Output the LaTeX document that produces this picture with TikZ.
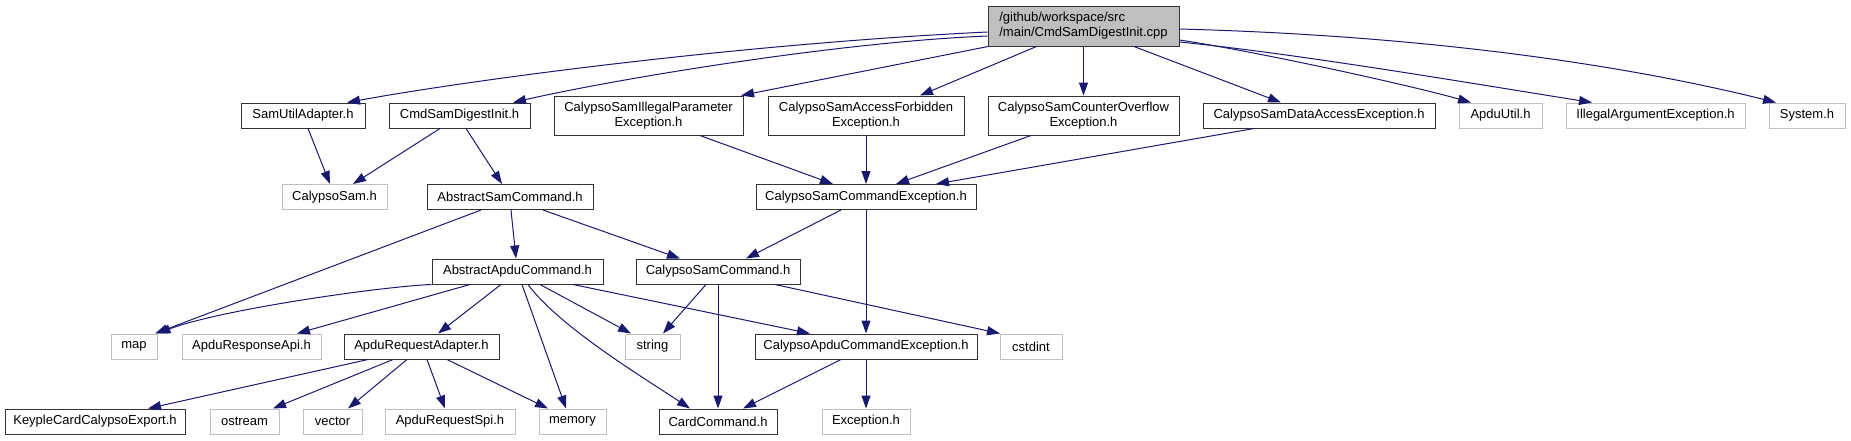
\documentclass[tikz,border=0pt]{standalone}
\usepackage{fontspec}
\setmainfont{Liberation Sans}
\usetikzlibrary{arrows.meta}
\definecolor{edgeblue}{HTML}{191970}
\definecolor{extgray}{HTML}{BFBFBF}

\tikzset{
  hdr/.style={draw=black!80, line width=1pt, rectangle, minimum height=25pt, inner sep=0pt, font=\fontsize{13}{15}\selectfont, align=center},
  ext/.style={hdr, draw=extgray},
  twoline/.style={minimum height=39pt},
  root/.style={hdr, fill=extgray, minimum height=40pt, align=left},
  dep/.style={-{Triangle[length=13pt,width=9pt]}, draw=edgeblue, line width=1pt},
}

\begin{document}
\begin{tikzpicture}[x=1pt, y=-1pt]
    \useasboundingbox (0,0) rectangle (1851,440);

    % Root file
    \node[root, minimum width=191pt] (main) at (1083.5,26) {/github/workspace/src\\/main/CmdSamDigestInit.cpp};

    % First row
    \node[hdr, minimum width=124pt] (samutil) at (303,115.5) {SamUtilAdapter.h};
    \node[hdr, minimum width=141pt] (cmdsam) at (459.5,115.5) {CmdSamDigestInit.h};
    \node[hdr, twoline, minimum width=189pt] (ipe) at (648.5,115.5) {CalypsoSamIllegalParameter\\Exception.h};
    \node[hdr, twoline, minimum width=196pt] (afe) at (866,115.5) {CalypsoSamAccessForbidden\\Exception.h};
    \node[hdr, twoline, minimum width=191pt] (cofe) at (1083.5,115.5) {CalypsoSamCounterOverflow\\Exception.h};
    \node[hdr, minimum width=232pt] (dae) at (1319,115.5) {CalypsoSamDataAccessException.h};
    \node[ext, minimum width=83pt] (apduutil) at (1500.5,115.5) {ApduUtil.h};
    \node[ext, minimum width=179pt] (iae) at (1655.5,115.5) {IllegalArgumentException.h};
    \node[ext, minimum width=76pt] (system) at (1807,115.5) {System.h};

    % Second row
    \node[ext, minimum width=105pt] (calsam) at (334.5,197) {CalypsoSam.h};
    \node[hdr, minimum width=166pt] (abssam) at (510,197) {AbstractSamCommand.h};
    \node[hdr, minimum width=220pt] (csce) at (866,197) {CalypsoSamCommandException.h};

    % Third row
    \node[hdr, minimum width=171pt] (absapdu) at (517.5,271.5) {AbstractApduCommand.h};
    \node[hdr, minimum width=164pt] (csc) at (718,271.5) {CalypsoSamCommand.h};

    % Fourth row
    \node[ext, minimum width=46pt] (map) at (134,346.5) {map};
    \node[ext, minimum width=139pt] (respapi) at (251.5,346.5) {ApduResponseApi.h};
    \node[hdr, minimum width=155pt] (reqadapter) at (421.5,346.5) {ApduRequestAdapter.h};
    \node[ext, minimum width=55pt] (string) at (652.5,346.5) {string};
    \node[hdr, minimum width=222pt] (cace) at (866,346.5) {CalypsoApduCommandException.h};
    \node[ext, minimum width=62pt] (cstdint) at (1031,346.5) {cstdint};

    % Bottom row
    \node[hdr, minimum width=180pt] (keyple) at (95,421.5) {KeypleCardCalypsoExport.h};
    \node[ext, minimum width=69pt] (ostream) at (244.5,421.5) {ostream};
    \node[ext, minimum width=59pt] (vector) at (332.5,421.5) {vector};
    \node[ext, minimum width=130pt] (reqspi) at (450,421.5) {ApduRequestSpi.h};
    \node[ext, minimum width=67pt] (memory) at (572.5,421.5) {memory};
    \node[hdr, minimum width=118pt] (cardcmd) at (718,421.5) {CardCommand.h};
    \node[ext, minimum width=88pt] (exception) at (866,421.5) {Exception.h};

    % Straight includes
    \foreach \a/\sa/\b/\sb in {
        main/-95.5/ipe/92.5, main/-47/afe/54, main/0/cofe/0, main/50.5/dae/-38,
        samutil/5/calsam/-4.5, cmdsam/-19.5/calsam/18.5, cmdsam/6.5/abssam/-8,
        ipe/51.5/csce/-33, afe/0/csce/0, cofe/-52.5/csce/30, dae/-65/csce/70,
        abssam/-29/map/21, abssam/1/absapdu/-1.5, abssam/33/csc/-38,
        csce/-25/csc/28, csce/0/cace/0,
        absapdu/-47.5/respapi/45.5, absapdu/-16.5/reqadapter/16.5, absapdu/4.5/memory/-6.5,
        absapdu/22.5/string/-21.5, absapdu/55.5/cace/-56,
        csc/-12/string/10.5, csc/0/cardcmd/0, csc/57/cstdint/-31,
        cace/-25/cardcmd/25, cace/0/exception/0,
        reqadapter/-53.5/keyple/53, reqadapter/-28.5/ostream/28.5, reqadapter/-14.5/vector/15.5,
        reqadapter/5.5/reqspi/-5, reqadapter/25.5/memory/-24.5} {
        \draw[dep] ([xshift=\sa pt]\a.south) -- ([xshift=\sb pt]\b.north);
    }

    % Curved includes
    \draw[dep] ([yshift=-6pt]main.west) .. controls +(-250,12) and +(120,-22) .. ([xshift=44pt]samutil.north);
    \draw[dep] ([yshift=-10pt]main.west) .. controls +(-150,6) and +(100,-23) .. ([xshift=53.5pt]cmdsam.north);
    \draw[dep] ([yshift=-14pt]main.east) .. controls +(80,12) and +(-60,-17) .. ([xshift=-29.5pt]apduutil.north);
    \draw[dep] ([yshift=-16pt]main.east) .. controls +(120,12) and +(-120,-19) .. ([xshift=-63.5pt]iae.north);
    \draw[dep] ([yshift=-3pt]main.east) .. controls +(300,8) and +(-100,-25) .. ([xshift=-31pt]system.north);
    \draw[dep] (absapdu.south west) .. controls +(-50,2) and +(63,-24) .. (map.north east);
    \draw[dep] ([xshift=10.5pt]absapdu.south) .. controls +(32,43) and +(-45,-30) .. ([xshift=-28pt]cardcmd.north);

\end{tikzpicture}
\end{document}
